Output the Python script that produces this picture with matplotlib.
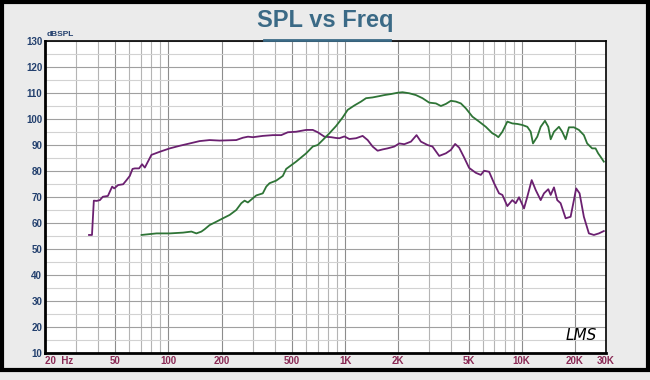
"""SPL vs frequency plot in the style of an LMS measurement printout."""

import matplotlib
matplotlib.use('Agg')
import matplotlib.pyplot as plt
import matplotlib.patches as patches
from matplotlib.lines import Line2D
import numpy as np

# Woofer-ish response (purple)
purple_freq = [35.5, 36.9, 37.8, 39.2, 40.9, 42.5, 45.4, 48.0, 49.3, 51.9, 55.4, 57.9,
               60.4, 62.6, 64.5, 68.2, 70.9, 73.5, 75.7, 80.1, 89.3, 101.7, 115.8, 131.9,
               150, 171, 195, 242, 264, 282, 301, 342, 390, 435, 474, 528, 602, 656,
               700, 764, 834, 889, 928, 991, 1057, 1154, 1257, 1342, 1432, 1528, 1631,
               1740, 1899, 2026, 2162, 2360, 2538, 2687, 2929, 3125, 3410, 3721, 3971,
               4198, 4422, 4720, 5036, 5496, 5866, 6124, 6536, 6974, 7442, 7770, 8290,
               8846, 9248, 9654, 10304, 10754, 11388, 11996, 12804, 13366, 14136, 14584,
               15226, 15886, 16604, 17724, 18914, 19744, 20340, 21260, 22480, 24000,
               25620, 27340, 29160]
purple_spl = [55.4, 55.4, 68.6, 68.5, 68.8, 70.1, 70.4, 74.0, 73.3, 74.6, 74.9, 76.5,
              78.1, 80.8, 81.0, 81.0, 82.6, 81.3, 83.0, 86.2, 87.4, 88.7, 89.7, 90.6,
              91.5, 91.9, 91.7, 91.9, 92.8, 93.2, 93.0, 93.5, 93.8, 93.8, 94.9, 95.1,
              95.8, 95.8, 94.9, 93.2, 93.0, 92.7, 92.6, 93.3, 92.3, 92.6, 93.5, 91.9,
              89.4, 87.8, 88.3, 88.7, 89.4, 90.6, 90.3, 91.3, 93.8, 91.3, 90.0, 89.4,
              85.8, 86.8, 88.1, 90.4, 89.0, 85.2, 81.2, 79.3, 78.5, 80.1, 79.7, 75.3,
              71.4, 70.8, 66.5, 68.8, 67.6, 69.9, 65.6, 70.1, 76.5, 72.7, 68.8, 71.4,
              73.0, 70.8, 73.7, 68.8, 67.6, 61.8, 62.4, 68.8, 73.3, 71.4, 62.4, 56.0,
              55.4, 56.0, 56.9]

# Midrange/tweeter-ish response (green)
green_freq = [70.4, 85.5, 101.7, 120.9, 134.9, 143.9, 153.6, 160.3, 171, 186.7, 203.4,
              222, 242, 258.4, 269.8, 281.6, 314, 342, 357.8, 373.4, 407.4, 444, 464,
              528, 602, 656, 700, 747, 815, 889, 969, 1034, 1128, 1231, 1314, 1432,
              1562, 1667, 1819, 1982, 2114, 2307, 2518, 2744, 2993, 3266, 3486, 3721,
              3971, 4237, 4522, 4826, 5258, 5737, 6260, 6820, 7129, 7373, 7770, 8290,
              8846, 9441, 10078, 10754, 11241, 11582, 12248, 12804, 13537, 14136,
              14584, 15226, 16242, 16952, 17724, 18498, 19744, 21068, 22480, 23463,
              25042, 26180, 27080, 27940, 29160]
green_spl = [55.4, 56.0, 56.0, 56.3, 56.7, 56.0, 56.7, 57.6, 59.2, 60.5, 61.8, 63.1,
             65.0, 67.6, 68.6, 67.9, 70.6, 71.4, 74.0, 75.3, 76.3, 78.1, 80.8, 83.6,
             86.8, 89.4, 90.0, 91.9, 94.5, 97.3, 100.6, 103.5, 105.2, 106.7, 108.0,
             108.3, 108.8, 109.2, 109.6, 110.1, 110.3, 109.9, 109.2, 108.0, 106.3,
             106.0, 105.0, 105.8, 107.0, 106.7, 106.0, 104.1, 100.9, 99.0, 97.0, 94.5,
             93.8, 93.0, 95.1, 99.0, 98.3, 98.1, 97.7, 97.0, 95.1, 90.6, 93.2, 97.0,
             99.3, 97.0, 92.2, 95.1, 97.0, 95.1, 92.2, 96.8, 96.8, 95.8, 93.8, 90.6,
             88.7, 88.7, 86.8, 85.5, 83.6]

x_ticks = [20, 50, 100, 200, 500, 1000, 2000, 5000, 10000, 20000, 30000]
x_labels = ['20  Hz', '50', '100', '200', '500', '1K', '2K', '5K', '10K', '20K', '30K']
y_ticks = list(range(10, 131, 10))

plt.rcParams['font.family'] = ['Liberation Sans Narrow', 'Liberation Sans', 'DejaVu Sans']

fig = plt.figure(figsize=(6.5, 3.8), dpi=100)
fig.patch.set_facecolor('#ebebeb')

# Black outer frame
frame = patches.Rectangle((1.5 / 650, 10.5 / 380), 646 / 650, 368 / 380,
                          transform=fig.transFigure, fill=False,
                          edgecolor='black', linewidth=3)
fig.add_artist(frame)

ax = fig.add_axes([45 / 650, 27 / 380, 561 / 650, 312 / 380])
ax.set_facecolor('white')
ax.set_xscale('log')
ax.set_xlim(20, 30000)
ax.set_ylim(10, 130)

# Grid: every 1-9 multiple on x, every 5 dB on y
minor_x = [m * 10 ** e for e in range(1, 5) for m in range(1, 10)
           if 20 <= m * 10 ** e <= 30000]
for f in minor_x:
    col = '#8c8c8c' if f in x_ticks else '#b4b4b4'
    ax.axvline(f, color=col, linewidth=0.8, zorder=1)
for v in range(15, 130, 10):
    ax.axhline(v, color='#d2d2d2', linewidth=0.8, zorder=1)
for v in y_ticks:
    ax.axhline(v, color='#a0a0a0', linewidth=0.8, zorder=1)

ax.plot(purple_freq, purple_spl, color='#6b2070', linewidth=1.3, zorder=3)
ax.plot(green_freq, green_spl, color='#2e7436', linewidth=1.3, zorder=3)

ax.set_xticks(x_ticks)
ax.set_xticklabels(x_labels, fontsize=7, fontweight='bold', color='#8a2a55')
ax.xaxis.set_minor_locator(matplotlib.ticker.NullLocator())
ax.get_xticklabels()[0].set_horizontalalignment('left')
ax.set_yticks(y_ticks)
ax.set_yticklabels([str(v) for v in y_ticks], fontsize=7, fontweight='bold',
                   color='#23406e')
ax.tick_params(axis='both', length=0, pad=2)

for side in ['top', 'right']:
    ax.spines[side].set_linewidth(1.2)
for side in ['left', 'bottom']:
    ax.spines[side].set_linewidth(2)

# Title with underline
fig.text(0.5, 1 - 21 / 380, 'SPL vs Freq', ha='center', va='center',
         fontsize=17, fontweight='bold', color='#3b6a86')
fig.add_artist(Line2D([264 / 650, 390 / 650], [1 - 39.5 / 380, 1 - 39.5 / 380],
                      transform=fig.transFigure, color='#3b6a86', linewidth=2))

fig.text(47 / 650, 1 - 34 / 380, 'dBSPL', ha='left', va='center', fontsize=6,
         fontweight='bold', color='#23406e')

ax.text(0.955, 0.055, 'LMS', transform=ax.transAxes, ha='center', va='center',
        fontsize=11, style='italic', family=['DejaVu Sans'], color='black')

plt.savefig('out.png', dpi=100, facecolor=fig.get_facecolor())
plt.close(fig)
